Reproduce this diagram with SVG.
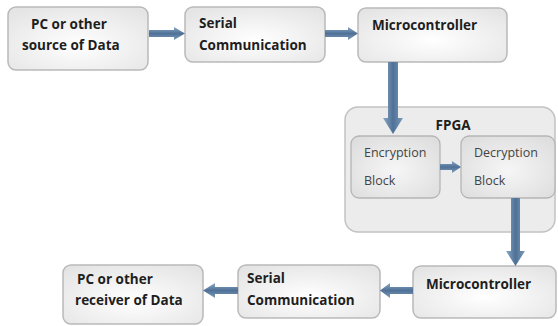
<svg xmlns="http://www.w3.org/2000/svg" width="558" height="326" viewBox="0 0 558 326">
<defs>
<radialGradient id="boxg" cx="50%" cy="60%" r="70%">
<stop offset="0" stop-color="#ffffff"/>
<stop offset="1" stop-color="#e4e4e4"/>
</radialGradient>
<radialGradient id="inner" cx="50%" cy="55%" r="70%">
<stop offset="0" stop-color="#f6f6f6"/>
<stop offset="1" stop-color="#dcdcdc"/>
</radialGradient>
<linearGradient id="ah" x1="0" y1="0" x2="0" y2="1">
<stop offset="0" stop-color="#8aa8c6"/>
<stop offset="0.5" stop-color="#4f7196"/>
<stop offset="1" stop-color="#7d9cbb"/>
</linearGradient>
<linearGradient id="av" x1="0" y1="0" x2="1" y2="0">
<stop offset="0" stop-color="#8aa8c6"/>
<stop offset="0.5" stop-color="#4f7196"/>
<stop offset="1" stop-color="#7d9cbb"/>
</linearGradient>
<style>
.box{fill:url(#boxg);stroke:#b9b9b9;stroke-width:1.5}
.inbox{fill:url(#inner);stroke:#b5b5b5;stroke-width:1.3}
.outer{fill:#ececec;stroke:#c2c2c2;stroke-width:1.5}
.t{font-family:"Open Sans","Liberation Sans",sans-serif;font-weight:bold;font-size:13.5px;fill:#1e1e1e}
.s{font-family:"Open Sans","Liberation Sans",sans-serif;font-size:12.5px;fill:#444}
.ah{fill:url(#ah)}
.av{fill:url(#av)}
</style>
</defs>
<rect width="558" height="326" fill="#ffffff"/>
<g id="pc-source">
<rect class="box" x="8" y="7" width="140" height="63" rx="8"/>
<text class="t" x="31" y="29">PC or other</text>
<text class="t" x="22" y="50">source of Data</text>
</g>
<g id="serial-1">
<rect class="box" x="185" y="7" width="140" height="55" rx="8"/>
<text class="t" x="199" y="28">Serial</text>
<text class="t" x="199" y="50">Communication</text>
</g>
<g id="micro-1">
<rect class="box" x="358" y="8" width="149" height="54" rx="8"/>
<text class="t" x="372" y="30">Microcontroller</text>
</g>
<g id="fpga">
<rect class="outer" x="345" y="107" width="210" height="125" rx="13"/>
<text class="t" x="453" y="130" text-anchor="middle">FPGA</text>
</g>
<g id="encryption">
<rect class="inbox" x="351" y="136" width="89" height="62" rx="8"/>
<text class="s" x="364" y="157">Encryption</text>
<text class="s" x="364" y="185">Block</text>
</g>
<g id="decryption">
<rect class="inbox" x="461" y="136" width="94" height="62" rx="8"/>
<text class="s" x="474" y="157">Decryption</text>
<text class="s" x="474" y="185">Block</text>
</g>
<g id="micro-2">
<rect class="box" x="413" y="266" width="143" height="52" rx="8"/>
<text class="t" x="426" y="289">Microcontroller</text>
</g>
<g id="serial-2">
<rect class="box" x="238" y="265" width="142" height="53" rx="8"/>
<text class="t" x="247" y="283">Serial</text>
<text class="t" x="247" y="305">Communication</text>
</g>
<g id="pc-receiver">
<rect class="box" x="63" y="265" width="140" height="59" rx="8"/>
<text class="t" x="77" y="284">PC or other</text>
<text class="t" x="75" y="305">receiver of Data</text>
</g>
<g id="connectors">
<polygon class="ah" points="149,30 174,30 174,27 185,33.5 174,40 174,37 149,37"/>
<polygon class="ah" points="325,30 348,30 348,27 358,33.5 348,40 348,37 325,37"/>
<polygon class="av" points="388,62 398,62 398,118 403,118 393,134 383,118 388,118"/>
<polygon class="ah" points="440,164 452,164 452,161 461,167 452,173 452,170 440,170"/>
<polygon class="av" points="511,198 520,198 520,251 525,251 515.5,266 506,251 511,251"/>
<polygon class="ah" points="413,287 390,287 390,283 380,290.5 390,298 390,294 413,294"/>
<polygon class="ah" points="238,287 215,287 215,283 203,290.5 215,298 215,294 238,294"/>
</g>
</svg>
